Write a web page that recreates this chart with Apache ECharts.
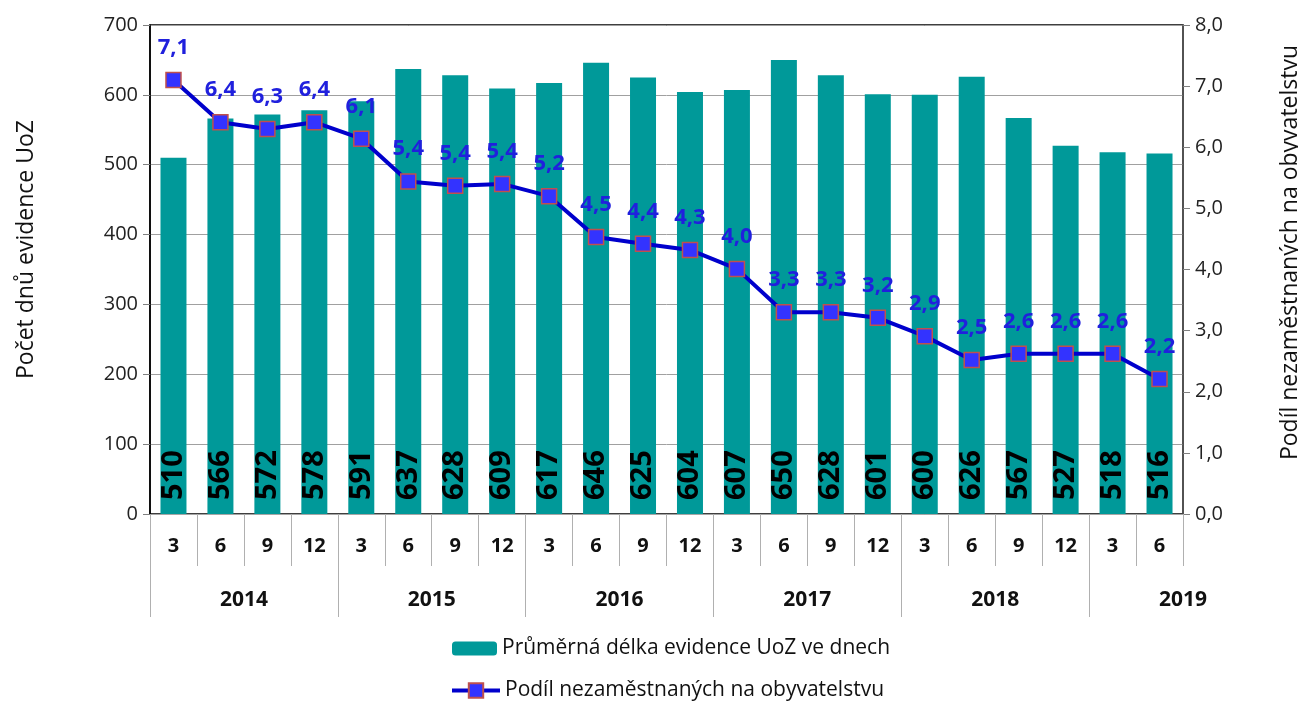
<!DOCTYPE html>
<html><head><meta charset="utf-8">
<script src="https://cdn.jsdelivr.net/npm/echarts@6/dist/echarts.min.js"></script>
<style>html,body{margin:0;padding:0;background:#fff}#c{width:1298px;height:708px}</style>
</head><body><div id="c"></div>
<script>
const months = ['3','6','9','12','3','6','9','12','3','6','9','12','3','6','9','12','3','6','9','12','3','6'];
const years = ['2014','2015','2016','2017','2018','2019'];
const yearCenters = [2,6,10,14,18,22];
const yearBounds = [0,4,8,12,16,20];
const duration = [510,566,572,578,591,637,628,609,617,646,625,604,607,650,628,601,600,626,567,527,518,516];
const share = [7.10,6.41,6.30,6.41,6.14,5.44,5.37,5.40,5.20,4.53,4.42,4.32,4.01,3.30,3.30,3.21,2.91,2.52,2.62,2.62,2.62,2.21];
const leftTicks = {min:0,max:700,interval:100};
const rightTicks = {min:0,max:8,interval:1};
const nameBar = 'Průměrná délka evidence UoZ ve dnech';
const nameLine = 'Podíl nezaměstnaných na obyvatelstvu';
const font = 'Open Sans';

const chart = echarts.init(document.getElementById('c'), null, {renderer:'canvas'});
chart.setOption({
  animation:false,
  textStyle:{fontFamily:font},
  grid:{left:150,right:115,top:25,bottom:194,containLabel:false,outerBoundsMode:'none',
        show:true,borderColor:'#000',borderWidth:1.5,backgroundColor:'transparent'},
  legend:[
    {data:[nameBar],left:452,top:638,padding:0,itemWidth:45,itemHeight:14,
     textStyle:{fontFamily:font,fontSize:21,color:'#111'}},
    {data:[nameLine],left:450,top:680,padding:0,itemWidth:48,itemHeight:18,
     lineStyle:{width:4,color:'#0000CC'},
     textStyle:{fontFamily:font,fontSize:21,color:'#111'}}
  ],
  xAxis:[
    {type:'category',data:months,position:'bottom',
     axisLine:{lineStyle:{color:'#a6a6a6',width:1}},
     axisTick:{show:true,interval:0,length:52,lineStyle:{color:'#b0b0b0'}},
     axisLabel:{interval:0,margin:22,fontFamily:font,fontSize:20,fontWeight:'bold',color:'#111'}},
    {type:'value',min:0,max:22,position:'bottom',
     axisLine:{show:false},splitLine:{show:false},
     axisTick:{show:true,customValues:yearBounds,length:103,lineStyle:{color:'#b0b0b0'}},
     axisLabel:{customValues:yearCenters,margin:76,fontFamily:font,fontSize:21,fontWeight:'bold',color:'#111',
       formatter:function(v){const i=yearCenters.indexOf(Math.round(v));return i>=0?years[i]:'';}}}
  ],
  yAxis:[
    {type:'value',min:leftTicks.min,max:leftTicks.max,interval:leftTicks.interval,
     name:'Počet dnů evidence UoZ',nameLocation:'middle',nameGap:112,
     nameTextStyle:{fontFamily:font,fontSize:23,color:'#111',padding:[0,0,0,40]},
     axisLine:{show:true,lineStyle:{color:'#000',width:1.5}},
     axisTick:{show:true,length:7,lineStyle:{color:'#808080'}},
     axisLabel:{margin:12,fontFamily:font,fontSize:20,color:'#222'},
     splitLine:{show:true,lineStyle:{color:'#a0a0a0',width:1}}},
    {type:'value',min:rightTicks.min,max:rightTicks.max,interval:rightTicks.interval,position:'right',
     name:nameLine,nameLocation:'middle',nameGap:96,nameRotate:90,
     nameTextStyle:{fontFamily:font,fontSize:23,color:'#111',padding:[0,0,0,34]},
     axisLine:{show:true,lineStyle:{color:'#595959',width:1.5}},
     axisTick:{show:true,length:7,lineStyle:{color:'#808080'}},
     axisLabel:{margin:12,fontFamily:font,fontSize:20,color:'#222',
       formatter:function(v){return v.toFixed(1).replace('.',',');}},
     splitLine:{show:false}}
  ],
  series:[
    {name:nameBar,type:'bar',xAxisIndex:0,yAxisIndex:0,data:duration,barWidth:26,
     itemStyle:{color:'#009999'},
     label:{show:true,position:'insideBottom',rotate:90,distance:14,align:'left',verticalAlign:'middle',
       fontFamily:font,fontSize:29,fontWeight:'bold',color:'#000'}},
    {name:nameLine,type:'line',xAxisIndex:0,yAxisIndex:1,data:share,
     symbol:'rect',symbolSize:15,
     lineStyle:{color:'#0000CC',width:4},
     itemStyle:{color:'#3333FF',borderColor:'#C0504D',borderWidth:1.5},
     label:{show:true,position:'top',distance:13,fontFamily:font,fontSize:22,fontWeight:'bold',color:'#2020DD',
       formatter:function(p){return p.value.toFixed(1).replace('.',',');}}}
  ]
});
</script></body></html>
